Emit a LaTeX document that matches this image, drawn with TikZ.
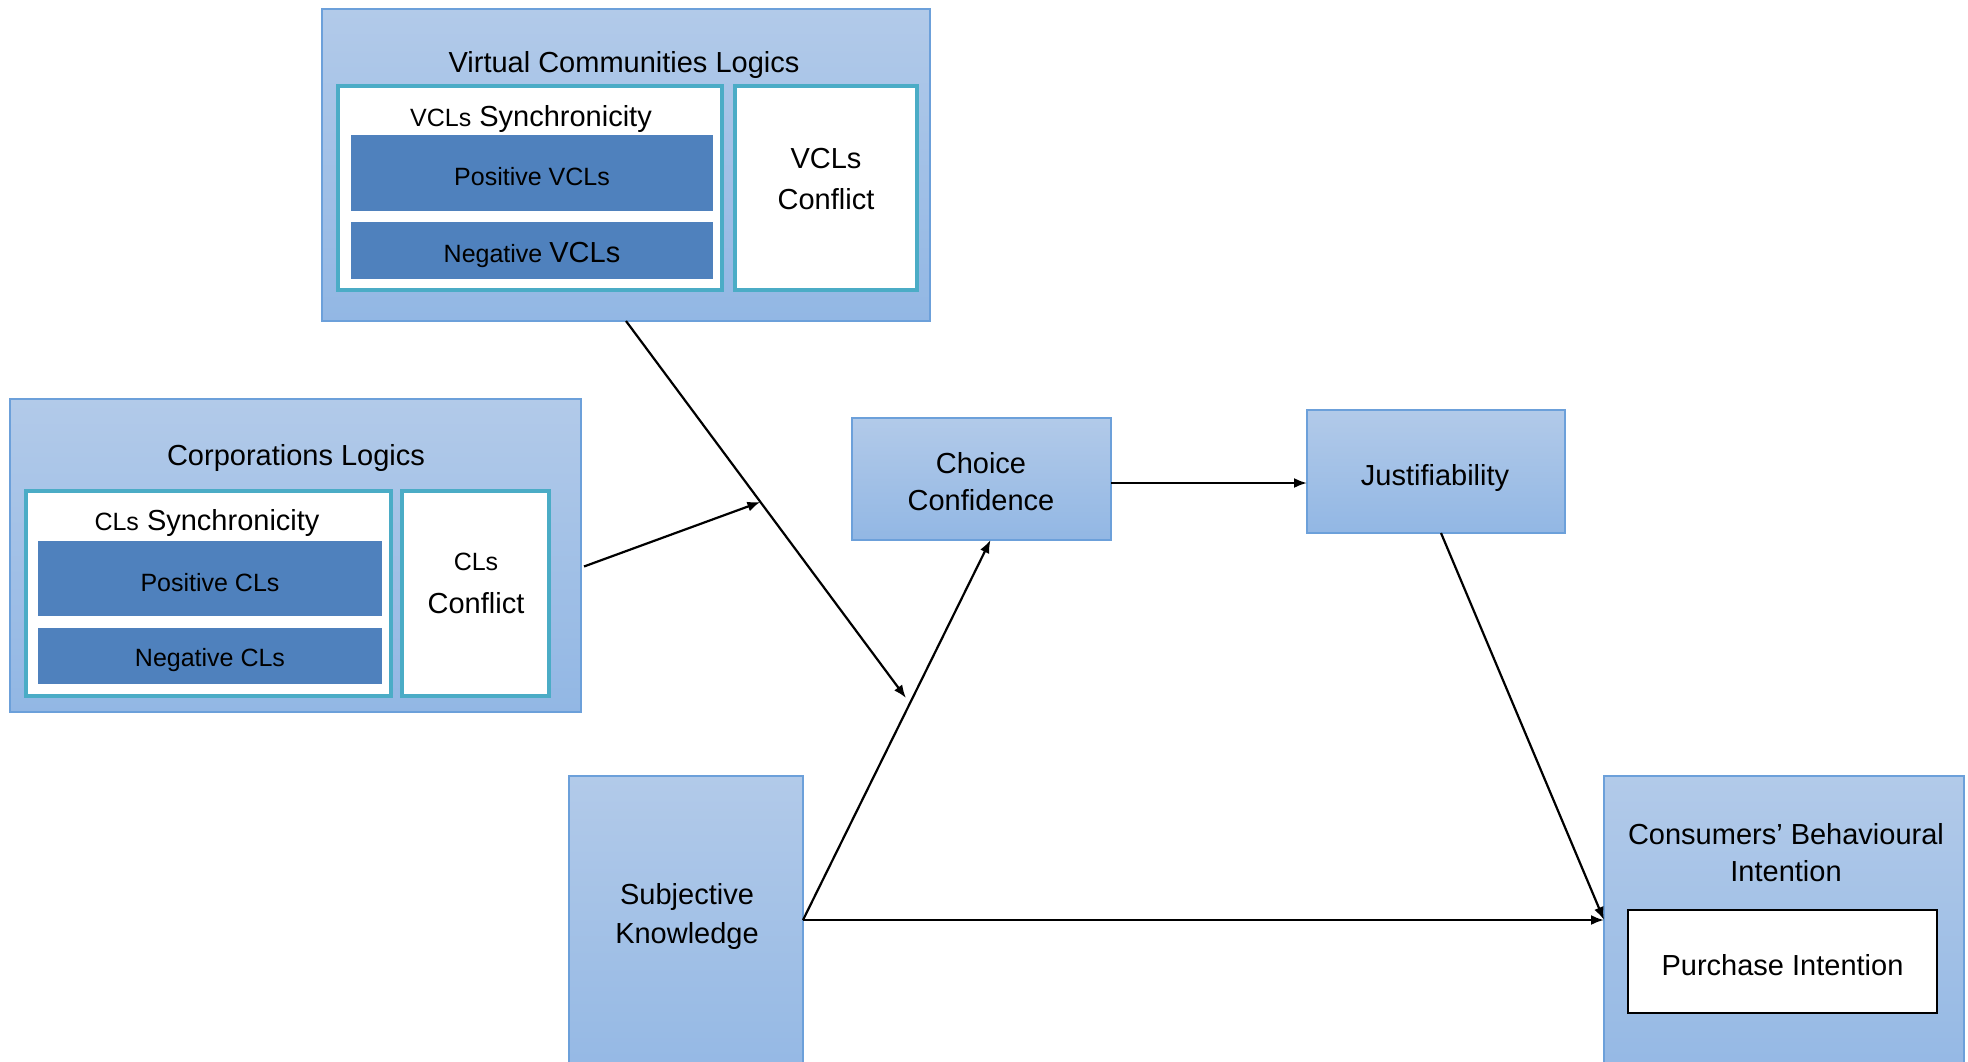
\documentclass[tikz,border=0pt]{standalone}
\usepackage{fontspec}
\setmainfont{Liberation Sans}
\usetikzlibrary{calc,arrows.meta}

\definecolor{edgeblue}{RGB}{108,160,218}
\definecolor{shadetop}{RGB}{178,202,233}
\definecolor{shadebot}{RGB}{146,183,228}
\definecolor{tealedge}{RGB}{75,172,198}
\definecolor{deepblue}{RGB}{79,129,189}

% lower a label inside its box without changing the box size
\newcommand{\dropped}[1]{\raisebox{-4pt}[\height][\depth]{#1}}

\tikzset{
  outerbox/.style={draw=edgeblue, line width=2, top color=shadetop, bottom color=shadebot,
    inner sep=0, outer sep=0, anchor=north west},
  tealbox/.style={draw=tealedge, line width=4, fill=white, inner sep=0, outer sep=0, anchor=north west},
  deepbox/.style={fill=deepblue, inner sep=0, outer sep=0, anchor=north west, align=center},
  plainbox/.style={draw=black, line width=2.5, fill=white, inner sep=0, outer sep=0, anchor=north west, align=center},
  lbl/.style={align=center, inner sep=0, yshift=-2.5, font=\fontsize{29}{37}\selectfont},
  small/.style={font=\fontsize{25}{30}\selectfont},
  arr/.style={line width=2.2, -{Latex[length=13,width=10]}}
}

\begin{document}
\begin{tikzpicture}[x=1pt,y=-1pt]
\useasboundingbox (0,0) rectangle (1968,1062);
\clip (0,0) rectangle (1968,1062);

% Virtual communities logics
\node[outerbox, minimum width=608, minimum height=312] (vcl) at (322,9) {};
\node[lbl] (vcltitle) at (624,63) {Virtual Communities Logics};
\node[tealbox, minimum width=384, minimum height=204] (vsync) at (338,86) {};
\node[lbl] (vsynctext) at (531,117) {{\fontsize{25}{30}\selectfont VCLs} Synchronicity};
\node[deepbox, minimum width=362, minimum height=76, small] (vpos) at (351,135) {\dropped{Positive VCLs}};
\node[deepbox, minimum width=362, minimum height=57, small] (vneg) at (351,222) {\dropped{Negative {\fontsize{29}{37}\selectfont VCLs}}};
\node[tealbox, minimum width=182, minimum height=204] (vconf) at (735,86) {};
\node[lbl] (vconftext) at (826,177) {VCLs\\[4pt]Conflict};

% Corporations logics
\node[outerbox, minimum width=571, minimum height=313] (cl) at (10,399) {};
\node[lbl] (cltitle) at (296,455) {Corporations Logics};
\node[tealbox, minimum width=365, minimum height=205] (csync) at (26,491) {};
\node[lbl] (csynctext) at (207,520) {{\fontsize{25}{30}\selectfont CLs} Synchronicity};
\node[deepbox, minimum width=344, minimum height=75, small] (cpos) at (38,541) {\dropped{Positive CLs}};
\node[deepbox, minimum width=344, minimum height=56, small] (cneg) at (38,628) {\dropped{Negative CLs}};
\node[tealbox, minimum width=147, minimum height=205] (cconf) at (402,491) {};
\node[lbl] (cconftext) at (476,581) {{\fontsize{25}{30}\selectfont CLs}\\[6pt]Conflict};

% Mediators
\node[outerbox, minimum width=259, minimum height=122] (cc) at (852,418) {};
\node[lbl] (cctext) at (981,479) {Choice\\Confidence};
\node[outerbox, minimum width=258, minimum height=123] (jus) at (1307,410) {};
\node[lbl] (justext) at (1435,475) {Justifiability};

% Antecedent and outcome
\node[outerbox, minimum width=234, minimum height=320] (sk) at (569,776) {};
\node[lbl] (sktext) at (687,914) {Subjective\\[2pt]Knowledge};
\node[outerbox, minimum width=360, minimum height=320] (cbi) at (1604,776) {};
\node[lbl] (cbitext) at (1786,850) {Consumers’ Behavioural\\Intention};
\node[plainbox, minimum width=309, minimum height=103, font=\fontsize{29}{37}\selectfont] (pi) at (1628,910) {\dropped{Purchase Intention}};

% Connectors
\coordinate (vclend) at (906,698);
\coordinate (modpt) at ($(vcl.south)!0.48!(vclend)$);
\coordinate (skout) at ($(sk.north east)+(0,144)$);
\draw[arr] (vcl.south) -- (vclend);
\draw[arr] ($(cl.east)+(3,11)$) -- (modpt);
\draw[arr] (skout) -- ($(cc.south)+(9,0)$);
\draw[arr] (skout) -- (skout -| cbi.west);
\draw[arr] ($(cc.east)+(0,4)$) -- ($(jus.west)+(0,11.5)$);
\draw[arr] ($(jus.south)+(5,0)$) -- (skout -| cbi.west);
\end{tikzpicture}
\end{document}
